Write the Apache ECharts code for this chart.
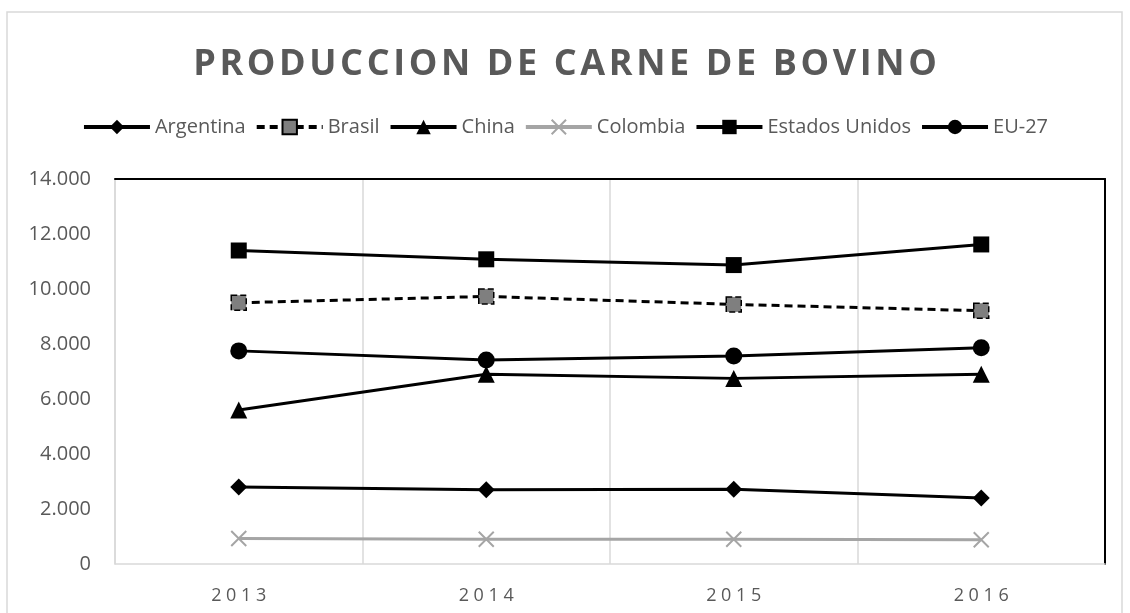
<!DOCTYPE html>
<html>
<head>
<meta charset="utf-8">
<script src="https://cdn.jsdelivr.net/npm/echarts@6/dist/echarts.min.js"></script>
<style>
  html, body { margin: 0; padding: 0; background: #fff; }
  #chart { width: 1130px; height: 613px; }
</style>
</head>
<body>
<div id="chart"></div>
<script>
// datos (miles de toneladas)
const years = ['2013', '2014', '2015', '2016']
const argentina = [2800, 2700, 2720, 2400]
const brasil = [9500, 9730, 9440, 9210]
const china = [5600, 6900, 6750, 6900]
const colombia = [930, 900, 900, 880]
const estadosUnidos = [11400, 11080, 10870, 11620]
const eu27 = [7750, 7420, 7560, 7860]
const yTicks = [0, 2000, 4000, 6000, 8000, 10000, 12000, 14000]

const chart = echarts.init(document.getElementById('chart'))

const font = 'Open Sans'
const grey = '#595959'
// marca X de Colombia
const crossPath = 'path://M0,0 L10,10 M10,0 L0,10'
// espaciado entre letras (hair space)
const spaced = (s, sep) => s.split('').join(sep)

const baseLine = (name, data, symbol, extra) => Object.assign({
  name: name,
  type: 'line',
  data: data,
  symbol: symbol,
  symbolSize: 16,
  xAxisIndex: 0,
  yAxisIndex: 0,
  lineStyle: { color: '#000', width: 3 },
  itemStyle: { color: '#000' },
  z: 5
}, extra || {})

const option = {
  animation: false,
  textStyle: { fontFamily: font },
  graphic: [{
    type: 'rect',
    shape: { x: 7, y: 12, width: 1115, height: 700 },
    style: { fill: 'none', stroke: '#d9d9d9', lineWidth: 1.5 },
    silent: true
  }],
  title: {
    text: spaced('PRODUCCION DE CARNE DE BOVINO', '\u200a'),
    left: 'center',
    top: 42,
    textStyle: { fontFamily: font, fontSize: 36, fontWeight: 'bold', color: grey }
  },
  legend: {
    top: 112,
    left: 'center',
    itemWidth: 66,
    itemHeight: 18,
    itemGap: 9,
    lineStyle: { width: 4 },
    textStyle: { fontFamily: font, fontSize: 20, color: grey },
    data: ['Argentina', 'Brasil', 'China', 'Colombia', 'Estados Unidos', 'EU-27']
  },
  grid: { left: 115, right: 25, top: 179, bottom: 49 },
  xAxis: [{
    type: 'category',
    data: years,
    boundaryGap: true,
    axisLine: { lineStyle: { color: '#d9d9d9', width: 1.5 } },
    axisTick: { show: false },
    axisLabel: {
      color: grey, fontSize: 18, margin: 23,
      formatter: v => spaced(v, ' ')
    },
    splitLine: { show: true, interval: 0, lineStyle: { color: '#d9d9d9', width: 1.5 } }
  }, {
    type: 'category',
    data: years,
    position: 'top',
    axisLine: { onZero: false, lineStyle: { color: '#000', width: 2 } },
    axisTick: { show: false },
    axisLabel: { show: false }
  }],
  yAxis: [{
    type: 'value',
    min: yTicks[0],
    max: yTicks[yTicks.length - 1],
    interval: 2000,
    axisLine: { show: true, onZero: false, lineStyle: { color: '#d9d9d9', width: 1.5 } },
    axisTick: { show: false },
    splitLine: { show: false },
    axisLabel: {
      color: grey, fontSize: 20, margin: 24,
      formatter: v => v.toString().replace(/\B(?=(\d{3})+(?!\d))/g, '.')
    }
  }, {
    type: 'value',
    position: 'right',
    min: yTicks[0],
    max: yTicks[yTicks.length - 1],
    interval: 2000,
    axisLine: { show: true, onZero: false, lineStyle: { color: '#000', width: 2 } },
    axisTick: { show: false },
    axisLabel: { show: false },
    splitLine: { show: false }
  }],
  series: [
    baseLine('Argentina', argentina, 'diamond', { symbolSize: 17 }),
    baseLine('Brasil', brasil, 'rect', {
      symbolSize: 15,
      lineStyle: { color: '#000', width: 3, type: [8, 5] },
      itemStyle: { color: '#7f7f7f', borderColor: '#000', borderWidth: 1.5, borderType: 'dashed' }
    }),
    baseLine('China', china, 'triangle', { symbolSize: 17 }),
    baseLine('Colombia', colombia, crossPath, {
      symbolSize: 15,
      lineStyle: { color: '#a5a5a5', width: 3 },
      itemStyle: { color: '#a5a5a5', borderColor: '#a5a5a5', borderWidth: 2 }
    }),
    baseLine('Estados Unidos', estadosUnidos, 'rect', { symbolSize: 16 }),
    baseLine('EU-27', eu27, 'circle', { symbolSize: 17 })
  ]
}

chart.setOption(option)
</script>
</body>
</html>
